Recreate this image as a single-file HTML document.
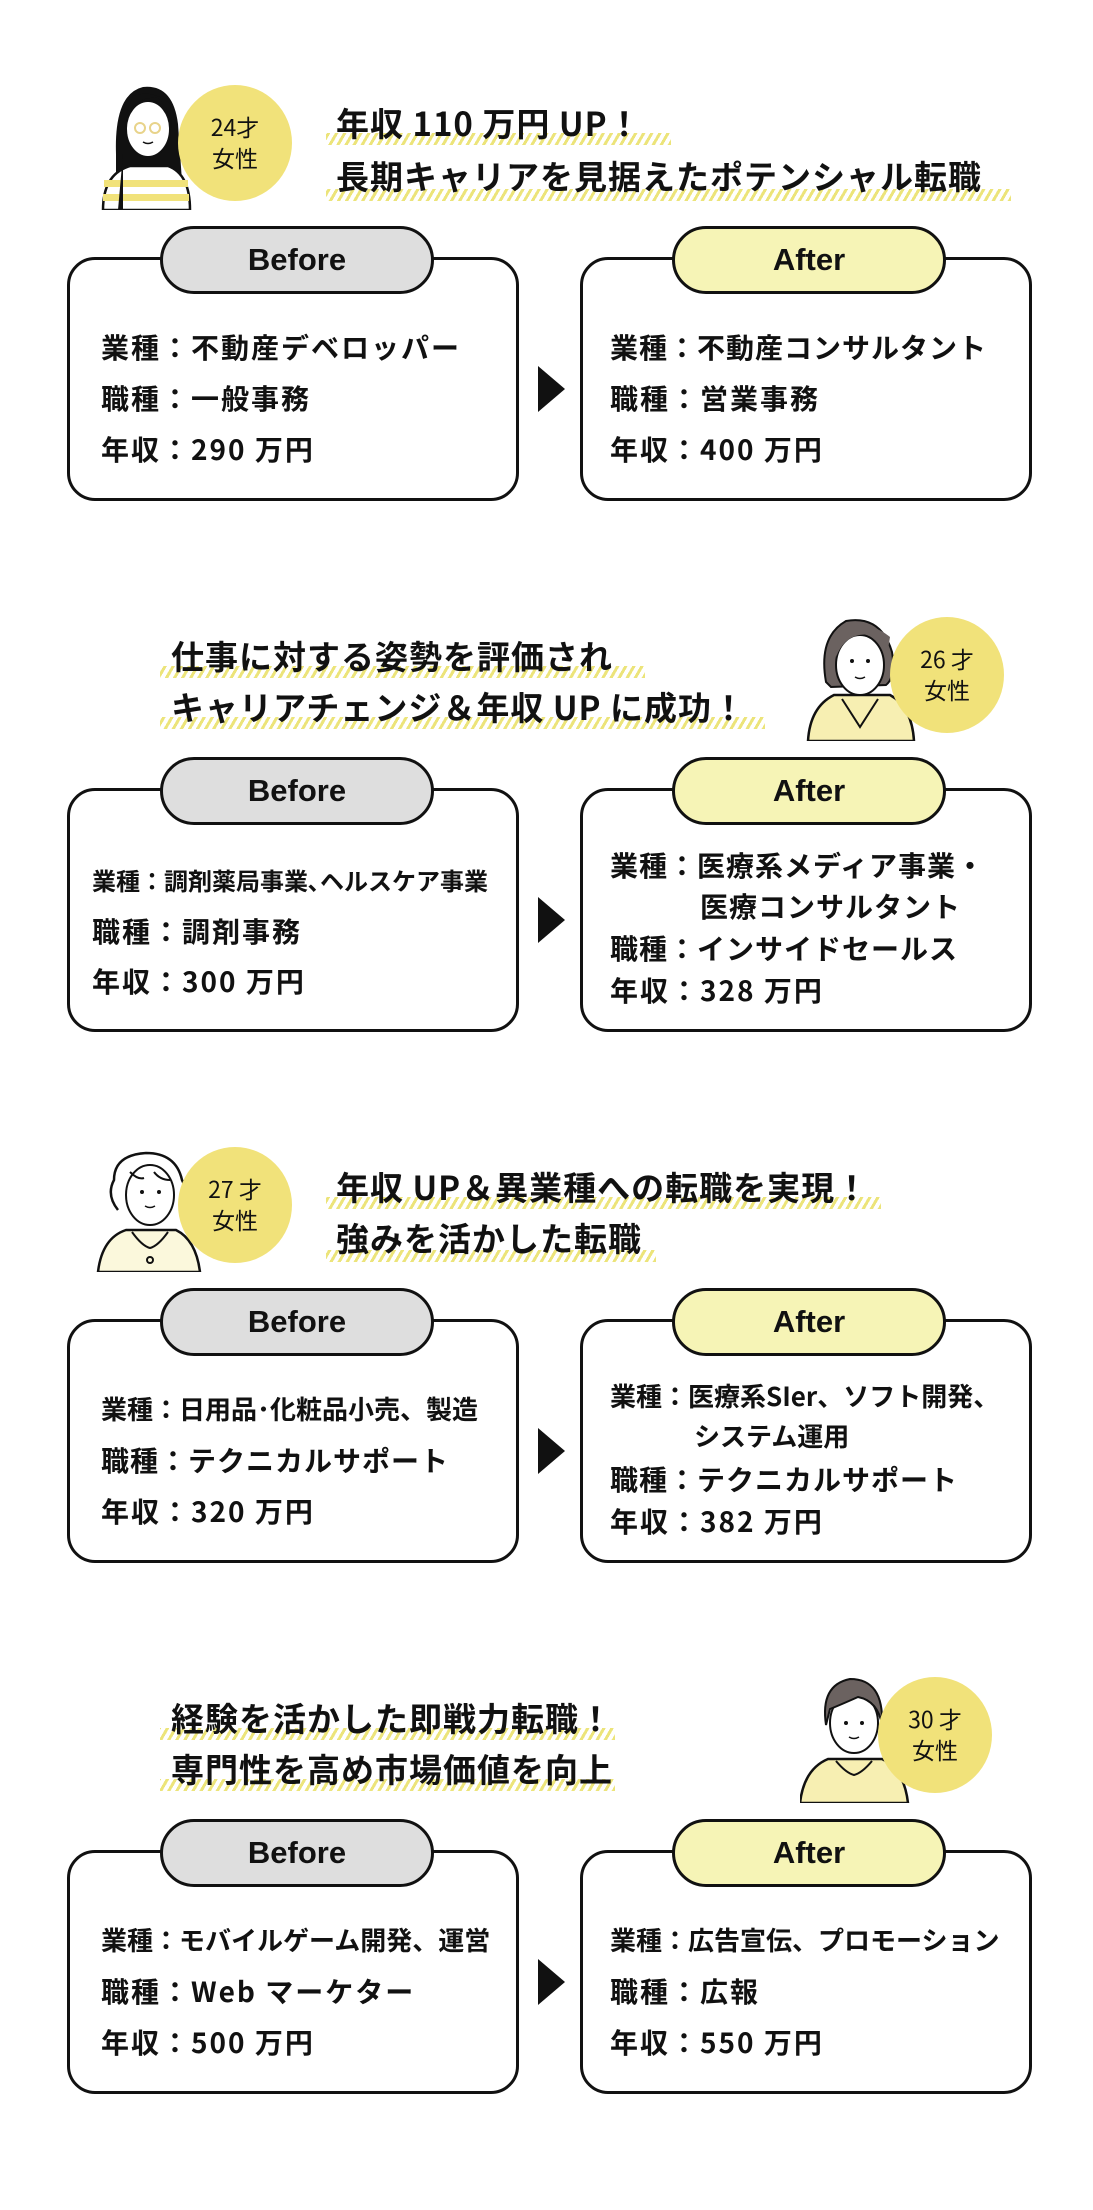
<!DOCTYPE html>
<html><head><meta charset="utf-8"><style>
body{margin:0;width:1093px;height:2210px;background:#fff;position:relative;overflow:hidden;font-family:"Liberation Sans","Noto Sans CJK JP",sans-serif;color:#111}
.s{position:absolute;left:0;width:1093px;height:531px}
.box{position:absolute;top:257px;width:446px;height:238px;border:3px solid #111;border-radius:28px;background:#fff}
.pill{position:absolute;top:226px;width:268px;height:62px;border:3px solid #111;border-radius:34px;text-align:center;line-height:62px;font-weight:bold;font-size:31px}
.bp{left:160px;background:#dedede}.ap{left:672px;background:#f6f4b6}
.t{position:absolute;font-weight:bold;font-size:28px;letter-spacing:2px;white-space:nowrap;font-family:"Noto Sans CJK JP",sans-serif}
.arr{position:absolute;left:538px;top:366px;width:0;height:0;border-top:23px solid transparent;border-bottom:23px solid transparent;border-left:27px solid #111}
.h{position:absolute;font-weight:bold;font-size:33px;letter-spacing:1px;white-space:nowrap;font-family:"Noto Sans CJK JP",sans-serif;line-height:40px}
.st{position:absolute;height:12px;background:repeating-linear-gradient(-60deg,#ece47a 0 3px,transparent 3px 7px)}
.c{position:absolute;width:114px;height:116px;border-radius:50%;background:#f1e27a;text-align:center;font-size:23px;line-height:31px;font-family:"Noto Sans CJK JP",sans-serif}
.c div{padding-top:26px}
.p{position:absolute}
</style></head><body>

<!-- Section 1 -->
<div class="s" style="top:0">
 <svg class="p" style="left:98px;top:84px" width="104" height="126" viewBox="0 0 104 126">
  <path d="M18 126 L18 70 Q16 10 45 3 Q75 0 80 40 L86 126 Z" fill="#111"/>
  <path d="M5 126 Q5 90 32 82 L70 82 Q92 90 92 126 Z" fill="#fff" stroke="#111" stroke-width="2.5"/>
  <rect x="6" y="96" width="84" height="7" fill="#f1e27a"/><rect x="5" y="110" width="86" height="7" fill="#f1e27a"/>
  <path d="M25 126 L25 70 L20 126Z" fill="#111"/>
  <ellipse cx="50" cy="45" rx="22" ry="28" fill="#fff" stroke="#111" stroke-width="2"/>
  <path d="M28 30 Q40 12 60 14 Q72 25 74 45 L72 20 Q55 5 35 12 Z" fill="#111"/>
  <circle cx="42" cy="44" r="5" fill="none" stroke="#e8d38a" stroke-width="2"/><circle cx="57" cy="44" r="5" fill="none" stroke="#e8d38a" stroke-width="2"/>
  <path d="M45 58 Q50 61 55 58" stroke="#111" fill="none" stroke-width="1.5"/>
 </svg>
 <div class="c" style="left:178px;top:85px"><div>24才<br>女性</div></div>
 <div class="st" style="left:326px;top:133px;width:345px"></div>
 <div class="st" style="left:326px;top:189px;width:685px"></div>
 <div class="h" style="left:336px;top:102px">年収 110 万円 UP！</div>
 <div class="h" style="left:336px;top:155px">長期キャリアを見据えたポテンシャル転職</div>
 <div class="box" style="left:67px"></div><div class="box" style="left:580px"></div>
 <div class="pill bp">Before</div><div class="pill ap">After</div>
 <div class="arr"></div>
 <div class="t" style="left:101px;top:327px">業種：不動産デベロッパー</div>
 <div class="t" style="left:101px;top:378px">職種：一般事務</div>
 <div class="t" style="left:101px;top:429px">年収：290 万円</div>
 <div class="t" style="left:610px;top:327px;letter-spacing:1px">業種：不動産コンサルタント</div>
 <div class="t" style="left:610px;top:378px">職種：営業事務</div>
 <div class="t" style="left:610px;top:429px">年収：400 万円</div>
</div>

<!-- Section 2 -->
<div class="s" style="top:531px">
 <svg class="p" style="left:806px;top:86px" width="112" height="124" viewBox="0 0 112 124">
  <path d="M2 124 Q4 90 28 78 L84 78 Q106 90 108 124 Z" fill="#f7efb2" stroke="#111" stroke-width="2.5"/>
  <path d="M36 82 L54 110 L72 82" fill="none" stroke="#111" stroke-width="2"/>
  <path d="M20 65 Q12 20 40 4 Q75 -2 86 35 Q90 60 80 68 L25 70Z" fill="#6b6260" stroke="#111" stroke-width="2"/>
  <ellipse cx="54" cy="48" rx="24" ry="30" fill="#fff" stroke="#111" stroke-width="2"/>
  <path d="M30 40 Q40 14 66 18 Q78 26 80 45 L84 20 Q60 0 32 15Z" fill="#6b6260"/>
  <circle cx="46" cy="44" r="2" fill="#111"/><circle cx="62" cy="44" r="2" fill="#111"/>
  <path d="M49 60 Q54 63 59 60" stroke="#111" fill="none" stroke-width="1.5"/>
 </svg>
 <div class="c" style="left:890px;top:86px"><div>26 才<br>女性</div></div>
 <div class="st" style="left:160px;top:135px;width:485px"></div>
 <div class="st" style="left:160px;top:186px;width:605px"></div>
 <div class="h" style="left:171px;top:104px">仕事に対する姿勢を評価され</div>
 <div class="h" style="left:171px;top:155px">キャリアチェンジ＆年収 UP に成功！</div>
 <div class="box" style="left:67px"></div><div class="box" style="left:580px"></div>
 <div class="pill bp">Before</div><div class="pill ap">After</div>
 <div class="arr"></div>
 <div class="t" style="left:92px;top:331px;font-size:24px;letter-spacing:0">業種：調剤薬局事業､ヘルスケア事業</div>
 <div class="t" style="left:92px;top:380px">職種：調剤事務</div>
 <div class="t" style="left:92px;top:430px">年収：300 万円</div>
 <div class="t" style="left:610px;top:314px;letter-spacing:1px">業種：医療系メディア事業・</div>
 <div class="t" style="left:700px;top:355px;letter-spacing:1px">医療コンサルタント</div>
 <div class="t" style="left:610px;top:397px;letter-spacing:1px">職種：インサイドセールス</div>
 <div class="t" style="left:610px;top:439px">年収：328 万円</div>
</div>

<!-- Section 3 -->
<div class="s" style="top:1062px">
 <svg class="p" style="left:96px;top:88px" width="108" height="122" viewBox="0 0 108 122">
  <path d="M2 122 Q6 88 30 80 L80 80 Q100 90 104 122 Z" fill="#fbf8dc" stroke="#111" stroke-width="2.5"/>
  <path d="M36 82 Q46 96 54 98 Q62 96 72 82" fill="none" stroke="#111" stroke-width="2"/>
  <circle cx="54" cy="110" r="3" fill="none" stroke="#111" stroke-width="2"/>
  <ellipse cx="54" cy="45" rx="24" ry="30" fill="#fff" stroke="#111" stroke-width="2"/>
  <path d="M22 60 Q10 45 18 30 Q18 5 50 3 Q80 3 86 30 Q94 45 84 62" fill="none" stroke="#111" stroke-width="2.5"/>
  <path d="M34 22 Q42 30 48 28 M58 22 Q64 30 74 30" stroke="#111" fill="none" stroke-width="2"/>
  <circle cx="46" cy="42" r="2" fill="#111"/><circle cx="63" cy="42" r="2" fill="#111"/>
  <path d="M49 56 Q54 59 59 56" stroke="#111" fill="none" stroke-width="1.5"/>
 </svg>
 <div class="c" style="left:178px;top:85px"><div>27 才<br>女性</div></div>
 <div class="st" style="left:326px;top:135px;width:555px"></div>
 <div class="st" style="left:326px;top:188px;width:330px"></div>
 <div class="h" style="left:336px;top:104px">年収 UP＆異業種への転職を実現！</div>
 <div class="h" style="left:336px;top:155px">強みを活かした転職</div>
 <div class="box" style="left:67px"></div><div class="box" style="left:580px"></div>
 <div class="pill bp">Before</div><div class="pill ap">After</div>
 <div class="arr"></div>
 <div class="t" style="left:101px;top:328px;font-size:26px;letter-spacing:0">業種：日用品･化粧品小売、製造</div>
 <div class="t" style="left:101px;top:378px;letter-spacing:1px">職種：テクニカルサポート</div>
 <div class="t" style="left:101px;top:429px">年収：320 万円</div>
 <div class="t" style="left:610px;top:315px;font-size:26px;letter-spacing:0">業種：医療系SIer、ソフト開発、</div>
 <div class="t" style="left:694px;top:355px;font-size:26px;letter-spacing:0">システム運用</div>
 <div class="t" style="left:610px;top:397px;letter-spacing:1px">職種：テクニカルサポート</div>
 <div class="t" style="left:610px;top:439px">年収：382 万円</div>
</div>

<!-- Section 4 -->
<div class="s" style="top:1593px">
 <svg class="p" style="left:800px;top:82px" width="110" height="128" viewBox="0 0 110 128">
  <path d="M0 128 Q4 94 28 84 L82 84 Q104 94 108 128 Z" fill="#f7efb2" stroke="#111" stroke-width="2.5"/>
  <path d="M36 86 Q46 98 54 100 Q62 98 72 86" fill="none" stroke="#111" stroke-width="2"/>
  <ellipse cx="54" cy="48" rx="24" ry="30" fill="#fff" stroke="#111" stroke-width="2"/>
  <path d="M26 50 Q20 10 50 4 Q84 4 82 50 Q78 26 58 22 Q40 30 30 34Z" fill="#6b6260" stroke="#111" stroke-width="2"/>
  <circle cx="46" cy="48" r="2" fill="#111"/><circle cx="62" cy="48" r="2" fill="#111"/>
  <path d="M49 62 Q54 65 59 62" stroke="#111" fill="none" stroke-width="1.5"/>
 </svg>
 <div class="c" style="left:878px;top:84px"><div>30 才<br>女性</div></div>
 <div class="st" style="left:160px;top:135px;width:455px"></div>
 <div class="st" style="left:160px;top:186px;width:455px"></div>
 <div class="h" style="left:171px;top:104px">経験を活かした即戦力転職！</div>
 <div class="h" style="left:171px;top:155px">専門性を高め市場価値を向上</div>
 <div class="box" style="left:67px"></div><div class="box" style="left:580px"></div>
 <div class="pill bp">Before</div><div class="pill ap">After</div>
 <div class="arr"></div>
 <div class="t" style="left:101px;top:328px;font-size:26px;letter-spacing:0">業種：モバイルゲーム開発、運営</div>
 <div class="t" style="left:101px;top:378px">職種：Web マーケター</div>
 <div class="t" style="left:101px;top:429px">年収：500 万円</div>
 <div class="t" style="left:610px;top:328px;font-size:26px;letter-spacing:0">業種：広告宣伝、プロモーション</div>
 <div class="t" style="left:610px;top:378px">職種：広報</div>
 <div class="t" style="left:610px;top:429px">年収：550 万円</div>
</div>
</body></html>
